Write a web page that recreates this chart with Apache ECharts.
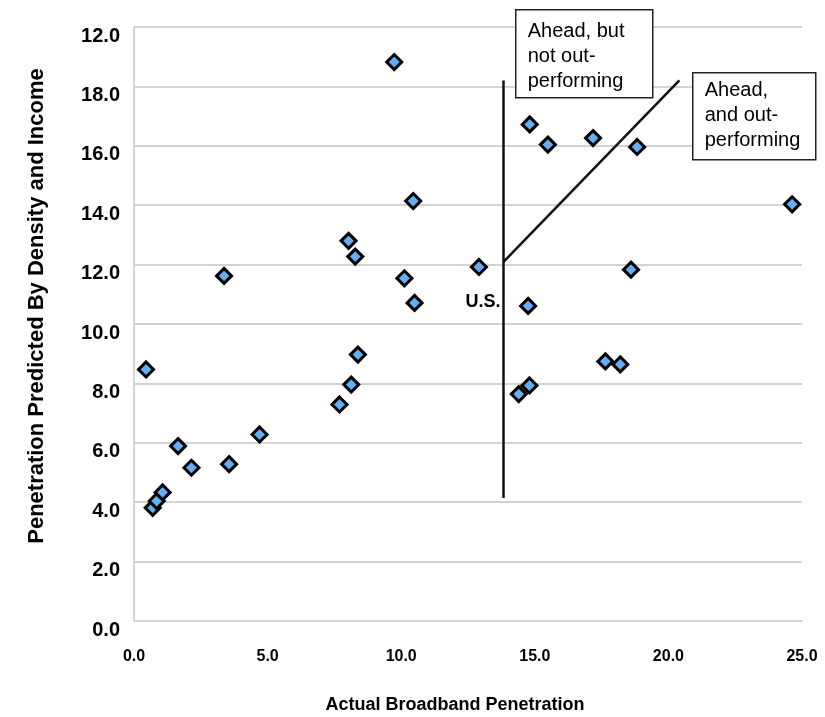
<!DOCTYPE html>
<html>
<head>
<meta charset="utf-8">
<script src="https://cdn.jsdelivr.net/npm/echarts@6/dist/echarts.min.js"></script>
<style>
  html, body { margin: 0; padding: 0; background: #fff; }
  #main { width: 825px; height: 717px; }
</style>
</head>
<body>
<div id="main"></div>
<script>
// actual penetration (x) vs penetration predicted by density and income (y)
var actualPen = [0.45, 0.70, 0.85, 1.07, 1.65, 2.15, 3.37, 3.56, 4.70, 7.69,
    8.03, 8.13, 8.28, 8.38, 9.74, 10.12, 10.45, 10.50, 12.91, 14.40,
    14.75, 14.80, 14.81, 15.49, 17.18, 17.64, 18.20, 18.60, 18.83, 24.63];
var predictedPen = [8.47, 3.81, 4.04, 4.33, 5.89, 5.16, 11.62, 5.28, 6.28, 7.29,
    12.80, 7.96, 12.27, 8.97, 18.82, 11.54, 14.14, 10.71, 11.92, 7.64,
    10.61, 7.93, 16.72, 16.04, 16.26, 8.74, 8.64, 11.83, 15.96, 14.03];
var pointNames = ['', '', '', '', '', '', '', '', '', '',
    '', '', '', '', '', '', '', '', 'U.S.', '',
    '', '', '', '', '', '', '', '', '', ''];

// y tick labels as printed on the original (top one reads 12.0)
var yTickLabels = ['0.0', '2.0', '4.0', '6.0', '8.0', '10.0', '12.0', '14.0', '16.0', '18.0', '12.0'];
var xTickLabels = ['0.0', '5.0', '10.0', '15.0', '20.0', '25.0'];

// divider lines, in data units
var dividerLine = [[13.82, 4.14], [13.82, 18.2]];
var outperformLine = [[13.82, 12.08], [20.41, 18.2]];

var FONT = 'Arial, "Liberation Sans", sans-serif';

var chart = echarts.init(document.getElementById('main'));

var points = [];
for (var i = 0; i < actualPen.length; i++) {
    var item = {value: [actualPen[i], predictedPen[i]]};
    if (pointNames[i]) {
        item.name = pointNames[i];
        item.label = {
            show: true,
            formatter: '{b}',
            position: 'bottom',
            distance: 17,
            offset: [4, 0],
            color: '#000',
            fontSize: 18,
            fontWeight: 'bold',
            fontFamily: FONT
        };
    }
    points.push(item);
}

chart.setOption({
    animation: false,
    backgroundColor: '#fff',
    grid: {left: 134, right: 23, top: 27, bottom: 96, outerBoundsMode: 'none', containLabel: false},
    xAxis: {
        type: 'value',
        min: 0,
        max: 25,
        interval: 5,
        name: 'Actual Broadband Penetration',
        nameLocation: 'middle',
        nameGap: 75,
        nameTextStyle: {fontSize: 18, fontWeight: 'bold', color: '#000', fontFamily: FONT, padding: [0, 26, 0, 0]},
        axisLine: {show: true, lineStyle: {color: '#d3d3d3', width: 2}},
        axisTick: {show: false},
        splitLine: {show: false},
        axisLabel: {
            margin: 28,
            color: '#000',
            fontSize: 16,
            fontWeight: 'bold',
            fontFamily: FONT,
            formatter: function (v) { return xTickLabels[Math.round(v / 5)]; }
        }
    },
    yAxis: {
        type: 'value',
        min: 0,
        max: 20,
        interval: 2,
        name: 'Penetration Predicted By Density and Income',
        nameLocation: 'middle',
        nameGap: 86,
        nameTextStyle: {fontSize: 22, fontWeight: 'bold', color: '#000', fontFamily: FONT, padding: [0, 0, 0, 36]},
        axisLine: {show: true, lineStyle: {color: '#d3d3d3', width: 2}},
        axisTick: {show: false},
        splitLine: {show: true, lineStyle: {color: '#d3d3d3', width: 2}},
        axisLabel: {
            margin: 14,
            formatter: function (v) { return '{v|' + yTickLabels[Math.round(v / 2)] + '}'; },
            rich: {
                v: {
                    padding: [18, 0, 0, 0],
                    color: '#000',
                    fontSize: 20,
                    fontWeight: 'bold',
                    fontFamily: FONT
                }
            }
        }
    },
    series: [{
        type: 'scatter',
        symbol: 'diamond',
        symbolSize: 15,
        itemStyle: {color: '#65aef5', borderColor: '#000', borderWidth: 3, opacity: 1},
        data: points,
        markLine: {
            silent: true,
            symbol: 'none',
            label: {show: false},
            lineStyle: {color: '#111', width: 2.5, type: 'solid', opacity: 1},
            data: [
                [{coord: dividerLine[0]}, {coord: dividerLine[1]}],
                [{coord: outperformLine[0]}, {coord: outperformLine[1]}]
            ]
        }
    }],
    graphic: [
        {
            type: 'group', left: 515, top: 9, z: 100,
            children: [
                {type: 'rect', z: 100, shape: {x: 0, y: 0, width: 137, height: 88},
                    style: {fill: '#fff', stroke: '#222', lineWidth: 1.5}},
                {type: 'text', z: 101, x: 12, y: 9,
                    style: {text: 'Ahead, but\nnot out-\nperforming', fill: '#000',
                        font: '20px ' + FONT, lineHeight: 25}}
            ]
        },
        {
            type: 'group', left: 692, top: 72, z: 100,
            children: [
                {type: 'rect', z: 100, shape: {x: 0, y: 0, width: 123, height: 87},
                    style: {fill: '#fff', stroke: '#222', lineWidth: 1.5}},
                {type: 'text', z: 101, x: 12, y: 5,
                    style: {text: 'Ahead,\nand out-\nperforming', fill: '#000',
                        font: '20px ' + FONT, lineHeight: 25}}
            ]
        }
    ]
});
</script>
</body>
</html>
